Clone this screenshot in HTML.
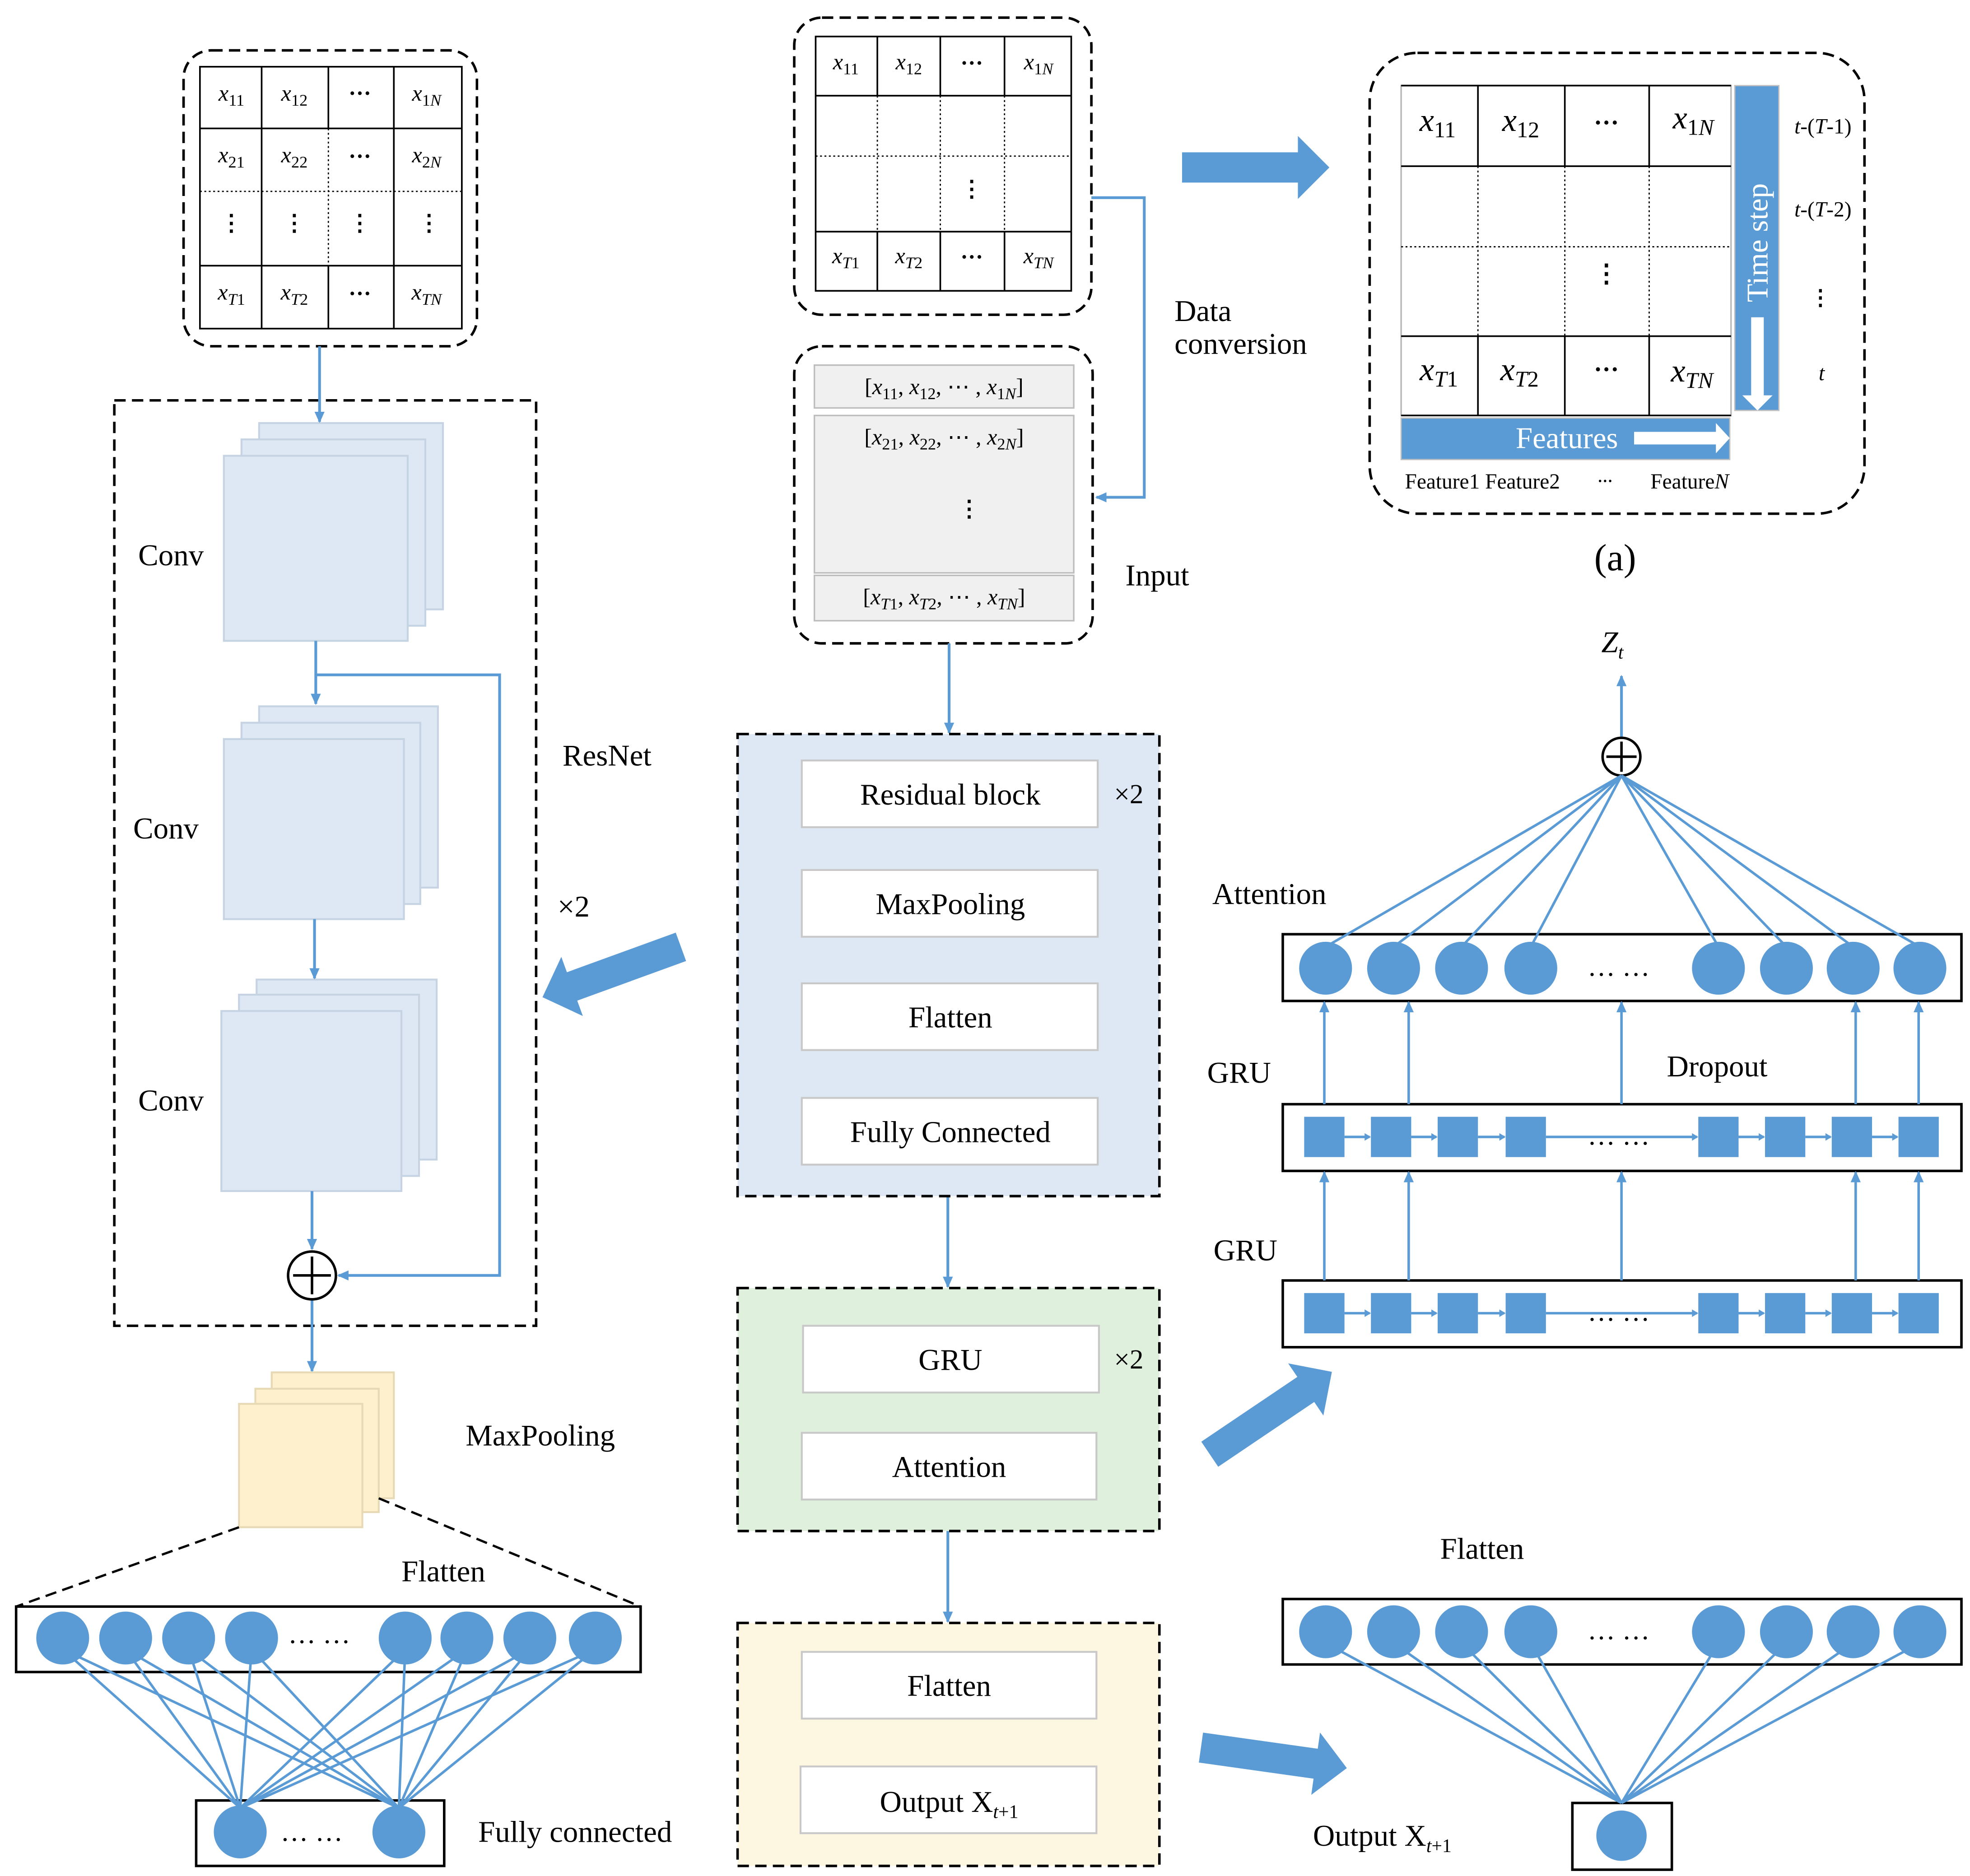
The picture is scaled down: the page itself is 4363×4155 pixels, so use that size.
<!DOCTYPE html>
<html><head><meta charset="utf-8"><style>
html,body{margin:0;padding:0;background:#fff;}
svg{display:block;}
text{font-family:"Liberation Serif",serif;fill:#000;}
</style></head><body>
<svg id="s" width="4363" height="4155" viewBox="0 0 1563 1490" xmlns="http://www.w3.org/2000/svg" font-family="Liberation Serif, serif">
<defs>
<marker id="ah" markerWidth="10" markerHeight="10" refX="8" refY="5" orient="auto" markerUnits="userSpaceOnUse"><path d="M0,1 L9,5 L0,9 z" fill="#5b9bd5"/></marker>
</defs>
<rect width="1563" height="1490" fill="#fff"/>
<g id="shapes"></g>

<!-- top-left matrix -->
<rect x="145" y="40" width="233" height="235" rx="22" fill="none" stroke="#000" stroke-width="2" stroke-dasharray="9,5"/>
<g stroke="#000" stroke-width="1.3" fill="none">
<rect x="158" y="53" width="208" height="208"/>
<line x1="158" y1="102" x2="366" y2="102"/><line x1="158" y1="211" x2="366" y2="211"/>
<line x1="207" y1="53" x2="207" y2="261"/><line x1="260" y1="53" x2="260" y2="102"/><line x1="260" y1="211" x2="260" y2="261"/><line x1="312" y1="53" x2="312" y2="261"/>
</g>
<g stroke="#000" stroke-width="1" stroke-dasharray="1.5,2" fill="none">
<line x1="158" y1="152" x2="366" y2="152"/><line x1="260" y1="102" x2="260" y2="211"/><line x1="207" y1="102" x2="207" y2="211"/>
</g>
<g font-size="18" font-style="italic" text-anchor="middle">
<text x="183" y="80">x<tspan dy="4" font-size="13" font-style="normal">11</tspan></text>
<text x="233" y="80">x<tspan dy="4" font-size="13" font-style="normal">12</tspan></text>
<text x="285" y="80" font-style="normal" font-weight="bold">···</text>
<text x="338" y="80">x<tspan dy="4" font-size="13" font-style="normal">1</tspan><tspan font-size="13">N</tspan></text>
<text x="183" y="129">x<tspan dy="4" font-size="13" font-style="normal">21</tspan></text>
<text x="233" y="129">x<tspan dy="4" font-size="13" font-style="normal">22</tspan></text>
<text x="285" y="130" font-style="normal" font-weight="bold">···</text>
<text x="338" y="129">x<tspan dy="4" font-size="13" font-style="normal">2</tspan><tspan font-size="13">N</tspan></text>
<text x="183" y="183" font-style="normal" font-weight="bold">⋮</text>
<text x="233" y="183" font-style="normal" font-weight="bold">⋮</text>
<text x="285" y="183" font-style="normal" font-weight="bold">⋮</text>
<text x="340" y="183" font-style="normal" font-weight="bold">⋮</text>
<text x="183" y="238">x<tspan dy="4" font-size="13">T</tspan><tspan font-size="13" font-style="normal">1</tspan></text>
<text x="233" y="238">x<tspan dy="4" font-size="13">T</tspan><tspan font-size="13" font-style="normal">2</tspan></text>
<text x="285" y="239" font-style="normal" font-weight="bold">···</text>
<text x="338" y="238">x<tspan dy="4" font-size="13">TN</tspan></text>
</g>

<!-- ResNet -->
<rect x="90" y="318" width="335" height="735" fill="none" stroke="#000" stroke-width="2" stroke-dasharray="9,5"/>
<g fill="#dde8f4" stroke="#c5d3e3" stroke-width="1.5">
<rect x="205" y="336" width="146" height="148"/><rect x="191" y="349" width="146" height="148"/><rect x="177" y="362" width="146" height="147"/>
<rect x="205" y="561" width="142" height="144"/><rect x="191" y="574" width="142" height="144"/><rect x="177" y="587" width="143" height="143"/>
<rect x="203" y="778" width="143" height="143"/><rect x="189" y="790" width="143" height="144"/><rect x="175" y="803" width="143" height="143"/>
</g>
<g font-size="24"><text x="109" y="449">Conv</text><text x="105" y="666">Conv</text><text x="109" y="882">Conv</text>
<text x="446" y="608">ResNet</text><text x="442" y="728">×2</text><text x="369" y="1148">MaxPooling</text><text x="318" y="1256">Flatten</text><text x="379" y="1463">Fully connected</text></g>
<g stroke="#5b9bd5" stroke-width="2.2" fill="none" marker-end="url(#ah)">
<line x1="253" y1="275" x2="253" y2="335"/>
<line x1="250" y1="509" x2="250" y2="559"/>
<polyline points="250,536 396,536 396,1013 268,1013"/>
<line x1="249" y1="730" x2="249" y2="777"/>
<line x1="247" y1="946" x2="247" y2="992"/>
<line x1="247" y1="1032" x2="247" y2="1089"/>
</g>
<circle cx="247" cy="1013" r="19" fill="#fff" stroke="#000" stroke-width="2"/>
<path d="M232,1013 H262 M247,998 V1028" stroke="#000" stroke-width="2"/>
<g fill="#fef0cd" stroke="#e6d9b4" stroke-width="1.5">
<rect x="215" y="1090" width="97" height="100"/><rect x="202" y="1103" width="98" height="98"/><rect x="189" y="1115" width="98" height="98"/>
</g>
<path d="M189,1213 L12,1276 M300,1190 L508,1276" stroke="#000" stroke-width="1.8" stroke-dasharray="9,5" fill="none"/>
<rect x="12" y="1276" width="496" height="52" fill="none" stroke="#000" stroke-width="2"/>
<rect x="155" y="1430" width="197" height="52" fill="none" stroke="#000" stroke-width="2"/>
<text x="228" y="1305" font-size="22">… …</text>
<text x="222" y="1462" font-size="22">… …</text>

<!-- Middle column -->
<rect x="630" y="14" width="236" height="236" rx="22" fill="none" stroke="#000" stroke-width="2" stroke-dasharray="9,5"/>
<g stroke="#000" stroke-width="1.3" fill="none">
<rect x="647" y="29" width="203" height="202"/>
<line x1="647" y1="76" x2="850" y2="76"/><line x1="647" y1="184" x2="850" y2="184"/>
<line x1="696" y1="29" x2="696" y2="76"/><line x1="746" y1="29" x2="746" y2="76"/><line x1="797" y1="29" x2="797" y2="76"/>
<line x1="696" y1="184" x2="696" y2="231"/><line x1="746" y1="184" x2="746" y2="231"/><line x1="797" y1="184" x2="797" y2="231"/>
</g>
<g stroke="#000" stroke-width="1" stroke-dasharray="1.5,2" fill="none">
<line x1="647" y1="124" x2="850" y2="124"/><line x1="696" y1="76" x2="696" y2="184"/><line x1="746" y1="76" x2="746" y2="184"/><line x1="797" y1="76" x2="797" y2="184"/>
</g>
<g font-size="18" font-style="italic" text-anchor="middle">
<text x="671" y="55">x<tspan dy="4" font-size="13" font-style="normal">11</tspan></text>
<text x="721" y="55">x<tspan dy="4" font-size="13" font-style="normal">12</tspan></text>
<text x="771" y="56" font-style="normal" font-weight="bold">···</text>
<text x="824" y="55">x<tspan dy="4" font-size="13" font-style="normal">1</tspan><tspan font-size="13">N</tspan></text>
<text x="771" y="156" font-style="normal" font-weight="bold">⋮</text>
<text x="671" y="209">x<tspan dy="4" font-size="13">T</tspan><tspan font-size="13" font-style="normal">1</tspan></text>
<text x="721" y="209">x<tspan dy="4" font-size="13">T</tspan><tspan font-size="13" font-style="normal">2</tspan></text>
<text x="771" y="210" font-style="normal" font-weight="bold">···</text>
<text x="824" y="209">x<tspan dy="4" font-size="13">TN</tspan></text>
</g>
<polyline points="866,157 908,157 908,395 870,395" fill="none" stroke="#5b9bd5" stroke-width="2.2" marker-end="url(#ah)"/>
<text x="932" y="255" font-size="24">Data</text><text x="932" y="281" font-size="24">conversion</text>

<rect x="630" y="275" width="237" height="236" rx="22" fill="none" stroke="#000" stroke-width="2" stroke-dasharray="9,5"/>
<g fill="#f0f0f0" stroke="#bdbdbd" stroke-width="1.2">
<rect x="646" y="290" width="206" height="34"/><rect x="646" y="330" width="206" height="125"/><rect x="646" y="457" width="206" height="36"/>
</g>
<g font-size="18" text-anchor="middle">
<text x="749" y="313">[<tspan font-style="italic">x</tspan><tspan dy="4" font-size="13">11</tspan><tspan dy="-4">, </tspan><tspan font-style="italic">x</tspan><tspan dy="4" font-size="13">12</tspan><tspan dy="-4">, ⋯ , </tspan><tspan font-style="italic">x</tspan><tspan dy="4" font-size="13">1</tspan><tspan font-size="13" font-style="italic">N</tspan><tspan dy="-4">]</tspan></text>
<text x="749" y="353">[<tspan font-style="italic">x</tspan><tspan dy="4" font-size="13">21</tspan><tspan dy="-4">, </tspan><tspan font-style="italic">x</tspan><tspan dy="4" font-size="13">22</tspan><tspan dy="-4">, ⋯ , </tspan><tspan font-style="italic">x</tspan><tspan dy="4" font-size="13">2</tspan><tspan font-size="13" font-style="italic">N</tspan><tspan dy="-4">]</tspan></text>
<text x="769" y="410" font-weight="bold">⋮</text>
<text x="749" y="480">[<tspan font-style="italic">x</tspan><tspan dy="4" font-size="13" font-style="italic">T</tspan><tspan font-size="13">1</tspan><tspan dy="-4">, </tspan><tspan font-style="italic">x</tspan><tspan dy="4" font-size="13" font-style="italic">T</tspan><tspan font-size="13">2</tspan><tspan dy="-4">, ⋯ , </tspan><tspan font-style="italic">x</tspan><tspan dy="4" font-size="13" font-style="italic">TN</tspan><tspan dy="-4">]</tspan></text>
</g>
<text x="893" y="465" font-size="24">Input</text>

<g stroke="#5b9bd5" stroke-width="2.2" marker-end="url(#ah)">
<line x1="753" y1="511" x2="753" y2="582"/><line x1="752" y1="950" x2="752" y2="1022"/><line x1="752" y1="1216" x2="752" y2="1288"/>
</g>
<rect x="585" y="583" width="335" height="367" fill="#dde8f4" stroke="#000" stroke-width="2" stroke-dasharray="9,5"/>
<rect x="585" y="1023" width="335" height="193" fill="#dff0dc" stroke="#000" stroke-width="2" stroke-dasharray="9,5"/>
<rect x="585" y="1289" width="335" height="193" fill="#fdf6e0" stroke="#000" stroke-width="2" stroke-dasharray="9,5"/>
<g fill="#fff" stroke="#c8c8c8" stroke-width="1.5">
<rect x="636" y="604" width="235" height="53"/><rect x="636" y="691" width="235" height="53"/><rect x="636" y="781" width="235" height="53"/><rect x="636" y="872" width="235" height="53"/>
<rect x="637" y="1053" width="235" height="53"/><rect x="636" y="1138" width="234" height="53"/>
<rect x="636" y="1312" width="234" height="53"/><rect x="635" y="1403" width="235" height="53"/>
</g>
<g font-size="24" text-anchor="middle">
<text x="754" y="639">Residual block</text><text x="754" y="726">MaxPooling</text><text x="754" y="816">Flatten</text><text x="754" y="907">Fully Connected</text>
<text x="754" y="1088">GRU</text><text x="753" y="1173">Attention</text>
<text x="753" y="1347">Flatten</text><text x="753" y="1439">Output X<tspan dy="5" font-size="15" font-style="italic">t</tspan><tspan font-size="15">+1</tspan></text>
</g>
<text x="884" y="638" font-size="22">×2</text><text x="884" y="1087" font-size="22">×2</text>

<!-- block arrows -->
<g fill="#5b9bd5">
<polygon points="0,-12 92,-12 92,-25 117,0 92,25 92,12 0,12" transform="translate(938,133)"/>
<polygon points="0,-12 92,-12 92,-25 117,0 92,25 92,12 0,12" transform="translate(540,752) rotate(160)"/>
<polygon points="0,-12 92,-12 92,-25 117,0 92,25 92,12 0,12" transform="translate(960,1155) rotate(-34)"/>
<polygon points="0,-12 92,-12 92,-25 117,0 92,25 92,12 0,12" transform="translate(953,1388) rotate(8)"/>
</g>

<!-- (a) panel -->
<rect x="1087" y="42" width="393" height="366" rx="38" fill="none" stroke="#000" stroke-width="2" stroke-dasharray="9,5"/>
<g stroke="#000" stroke-width="1.3" fill="none">
<rect x="1112" y="68" width="262" height="262" stroke="#bbb"/>
<line x1="1112" y1="68" x2="1374" y2="68"/><line x1="1112" y1="132" x2="1374" y2="132"/><line x1="1112" y1="267" x2="1374" y2="267"/><line x1="1112" y1="330" x2="1374" y2="330"/>
<line x1="1173" y1="68" x2="1173" y2="132"/><line x1="1242" y1="68" x2="1242" y2="132"/><line x1="1309" y1="68" x2="1309" y2="132"/>
<line x1="1173" y1="267" x2="1173" y2="330"/><line x1="1242" y1="267" x2="1242" y2="330"/><line x1="1309" y1="267" x2="1309" y2="330"/>
</g>
<g stroke="#000" stroke-width="1" stroke-dasharray="1.5,2" fill="none">
<line x1="1112" y1="196" x2="1374" y2="196"/><line x1="1173" y1="132" x2="1173" y2="267"/><line x1="1242" y1="132" x2="1242" y2="267"/><line x1="1309" y1="132" x2="1309" y2="267"/>
</g>
<g font-size="26" font-style="italic" text-anchor="middle">
<text x="1141" y="104">x<tspan dy="5" font-size="18" font-style="normal">11</tspan></text>
<text x="1207" y="104">x<tspan dy="5" font-size="18" font-style="normal">12</tspan></text>
<text x="1275" y="104" font-style="normal" font-weight="bold" font-size="20">···</text>
<text x="1344" y="102">x<tspan dy="5" font-size="18" font-style="normal">1</tspan><tspan font-size="18">N</tspan></text>
<text x="1275" y="224" font-style="normal" font-weight="bold" font-size="20">⋮</text>
<text x="1142" y="302">x<tspan dy="5" font-size="18">T</tspan><tspan font-size="18" font-style="normal">1</tspan></text>
<text x="1206" y="302">x<tspan dy="5" font-size="18">T</tspan><tspan font-size="18" font-style="normal">2</tspan></text>
<text x="1275" y="300" font-style="normal" font-weight="bold" font-size="20">···</text>
<text x="1343" y="303">x<tspan dy="5" font-size="18">TN</tspan></text>
</g>
<rect x="1377" y="68" width="35" height="258" fill="#5b9bd5" stroke="#c0c0c0" stroke-width="1"/>
<text transform="translate(1403,240) rotate(-90)" font-size="24" style="fill:#fff">Time step</text>
<polygon points="1390,252 1400,252 1400,314 1407,314 1395,326 1383,314 1390,314" fill="#fff"/>
<rect x="1112" y="332" width="261" height="33" fill="#5b9bd5" stroke="#c0c0c0" stroke-width="1"/>
<text x="1203" y="356" font-size="24" style="fill:#fff">Features</text>
<polygon points="1297,343 1362,343 1362,336 1373,348 1362,360 1362,353 1297,353" fill="#fff"/>
<g font-size="17"><text x="1115" y="388">Feature1 Feature2</text><text x="1268" y="386" font-weight="bold" font-size="12">···</text><text x="1310" y="388">Feature<tspan font-style="italic">N</tspan></text></g>
<g font-size="17" font-style="italic" text-anchor="middle">
<text x="1447" y="106">t<tspan font-style="normal">-(</tspan>T<tspan font-style="normal">-1)</tspan></text>
<text x="1447" y="172">t<tspan font-style="normal">-(</tspan>T<tspan font-style="normal">-2)</tspan></text>
<text x="1445" y="242" font-style="normal" font-weight="bold">⋮</text>
<text x="1446" y="302">t</text>
</g>
<text x="1282" y="453" font-size="30" text-anchor="middle">(a)</text>

<!-- right network -->
<text x="1271" y="518" font-size="24" font-style="italic">Z<tspan dy="5" font-size="15">t</tspan></text>
<line x1="1287" y1="585" x2="1287" y2="537" stroke="#5b9bd5" stroke-width="2.2" marker-end="url(#ah)"/>
<rect x="1018" y="742" width="539" height="53" fill="none" stroke="#000" stroke-width="2"/>
<rect x="1018" y="877" width="539" height="53" fill="none" stroke="#000" stroke-width="2"/>
<rect x="1018" y="1017" width="539" height="53" fill="none" stroke="#000" stroke-width="2"/>
<rect x="1018" y="1270" width="539" height="52" fill="none" stroke="#000" stroke-width="2"/>
<rect x="1248" y="1432" width="79" height="53" fill="none" stroke="#000" stroke-width="2"/>
<g font-size="24">
<text x="962" y="718">Attention</text><text x="958" y="860">GRU</text><text x="963" y="1001">GRU</text><text x="1323" y="855">Dropout</text>
<text x="1143" y="1238">Flatten</text><text x="1042" y="1466">Output X<tspan dy="5" font-size="15" font-style="italic">t</tspan><tspan font-size="15">+1</tspan></text>
</g>
<g font-size="22"><text x="1260" y="775">… …</text><text x="1260" y="909">… …</text><text x="1260" y="1049">… …</text><text x="1260" y="1302">… …</text></g>
<circle cx="1287" cy="601" r="15" fill="#fff" stroke="#000" stroke-width="2"/>
<path d="M1275,601 H1299 M1287,589 V613" stroke="#000" stroke-width="2"/>
</svg>
<script>
(function(){
var NS="http://www.w3.org/2000/svg",s=document.getElementById("s");
var B="#5b9bd5";
function el(n,a){var e=document.createElementNS(NS,n);for(var k in a)e.setAttribute(k,a[k]);s.appendChild(e);return e;}
function ln(x1,y1,x2,y2,arrow){var a={x1:x1,y1:y1,x2:x2,y2:y2,stroke:B,"stroke-width":2};if(arrow)a["marker-end"]="url(#ah)";el("line",a);}
var lx=[49,99,149,199,321,370,420,472];
lx.forEach(function(x){[190,316].forEach(function(t){ln(x,1310,t,1436);});});
lx.forEach(function(x){el("circle",{cx:x,cy:1301,r:21,fill:B});});
el("circle",{cx:190,cy:1455,r:21,fill:B});el("circle",{cx:316,cy:1455,r:21,fill:B});
var ax=[1052,1106,1160,1215,1364,1418,1471,1524];
ax.forEach(function(x){ln(x,752,1287,616);});
ax.forEach(function(x){el("circle",{cx:x,cy:769,r:21,fill:B});});
var gx=[1051,1104,1157,1211,1364,1417,1470,1523];
[903,1043].forEach(function(y){
 gx.forEach(function(x){el("rect",{x:x-16,y:y-16,width:32,height:32,fill:B});});
 for(var i=0;i<7;i++){var x1=gx[i]+16,x2=gx[i+1]-16;ln(x1,y,x2-1,y,false);el("path",{d:"M"+(x2-5)+","+(y-3)+" L"+x2+","+y+" L"+(x2-5)+","+(y+3)+"z",fill:B});}
});
[1051,1118,1287,1473,1523].forEach(function(x){ln(x,877,x,796,true);ln(x,1017,x,931,true);});
var fx=[1052,1106,1160,1215,1364,1418,1471,1524];
fx.forEach(function(x){ln(x,1305,1287,1432);});
fx.forEach(function(x){el("circle",{cx:x,cy:1296,r:21,fill:B});});
el("circle",{cx:1287,cy:1458,r:20,fill:B});
})();
</script>
</body></html>
